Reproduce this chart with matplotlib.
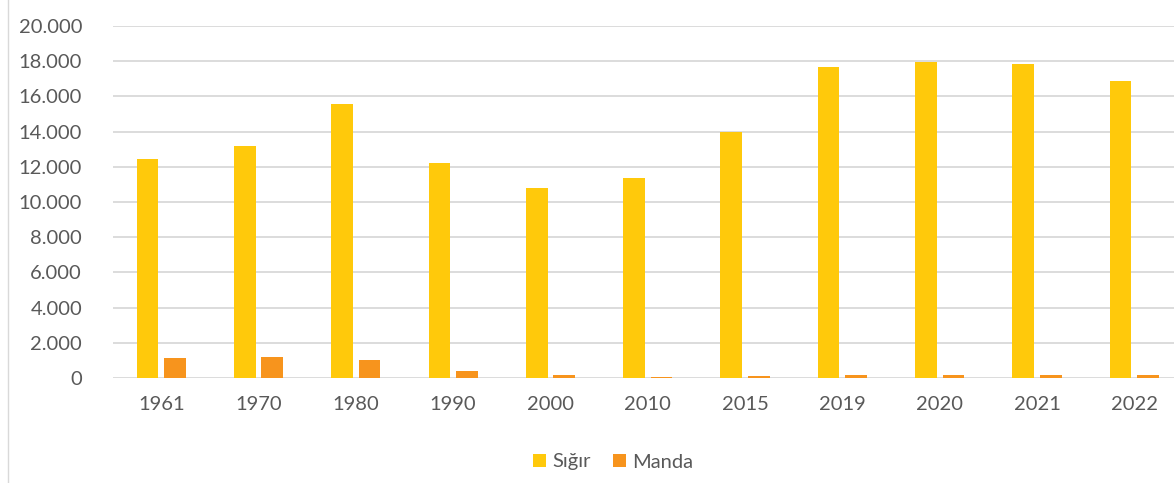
import numpy as np
import matplotlib
matplotlib.use('agg')
import matplotlib.pyplot as plt
from matplotlib.lines import Line2D
from matplotlib.ticker import FuncFormatter

years = ['1961', '1970', '1980', '1990', '2000', '2010', '2015', '2019', '2020', '2021', '2022']
sigir = [12440, 13180, 15570, 12200, 10800, 11370, 14000, 17690, 17970, 17850, 16850]
manda = [1140, 1180, 1030, 380, 146, 85, 133, 185, 186, 185, 179]

plt.rcParams['font.family'] = ['Lato', 'DejaVu Sans']
text_color = '#595959'

fig = plt.figure(figsize=(11.74, 4.83), dpi=100)
W, H = 1174, 483
step = 97.3
left = 112.6
ax = fig.add_axes([left / W, (H - 378) / H, 11 * step / W, (378 - 26) / H])

x = np.arange(len(years))
bw = 0.223
off = 0.141
ax.bar(x - off, sigir, width=bw, color='#FFC90B', label='Sığır', zorder=3)
ax.bar(x + off, manda, width=bw, color='#F7941D', label='Manda', zorder=3)

ax.set_xlim(-0.5, len(years) - 0.5)
ax.set_ylim(0, 20000)
ax.set_yticks(np.arange(0, 20001, 2000))
ax.yaxis.set_major_formatter(FuncFormatter(lambda v, p: f'{int(v):,}'.replace(',', '.')))
ax.set_xticks(x)
ax.set_xticklabels(years)
ax.grid(axis='y', color='#D9D9D9', linewidth=1.3, zorder=0)
for s in ax.spines.values():
    s.set_visible(False)
ax.tick_params(axis='both', length=0, labelsize=14.5, colors=text_color)
ax.tick_params(axis='y', pad=22)
ax.tick_params(axis='x', pad=13)

fig.legend(loc='center', bbox_to_anchor=(613 / W, 1 - 462 / H), ncol=2, frameon=False,
           fontsize=14.5, labelcolor=text_color, handlelength=0.65, handleheight=0.65,
           handletextpad=0.3, columnspacing=1.1)

# chart frame border on the left
fig.add_artist(Line2D([7.5 / W, 7.5 / W], [0, 1], color='#D9D9D9', linewidth=1))

fig.savefig('out.png', dpi=100)
